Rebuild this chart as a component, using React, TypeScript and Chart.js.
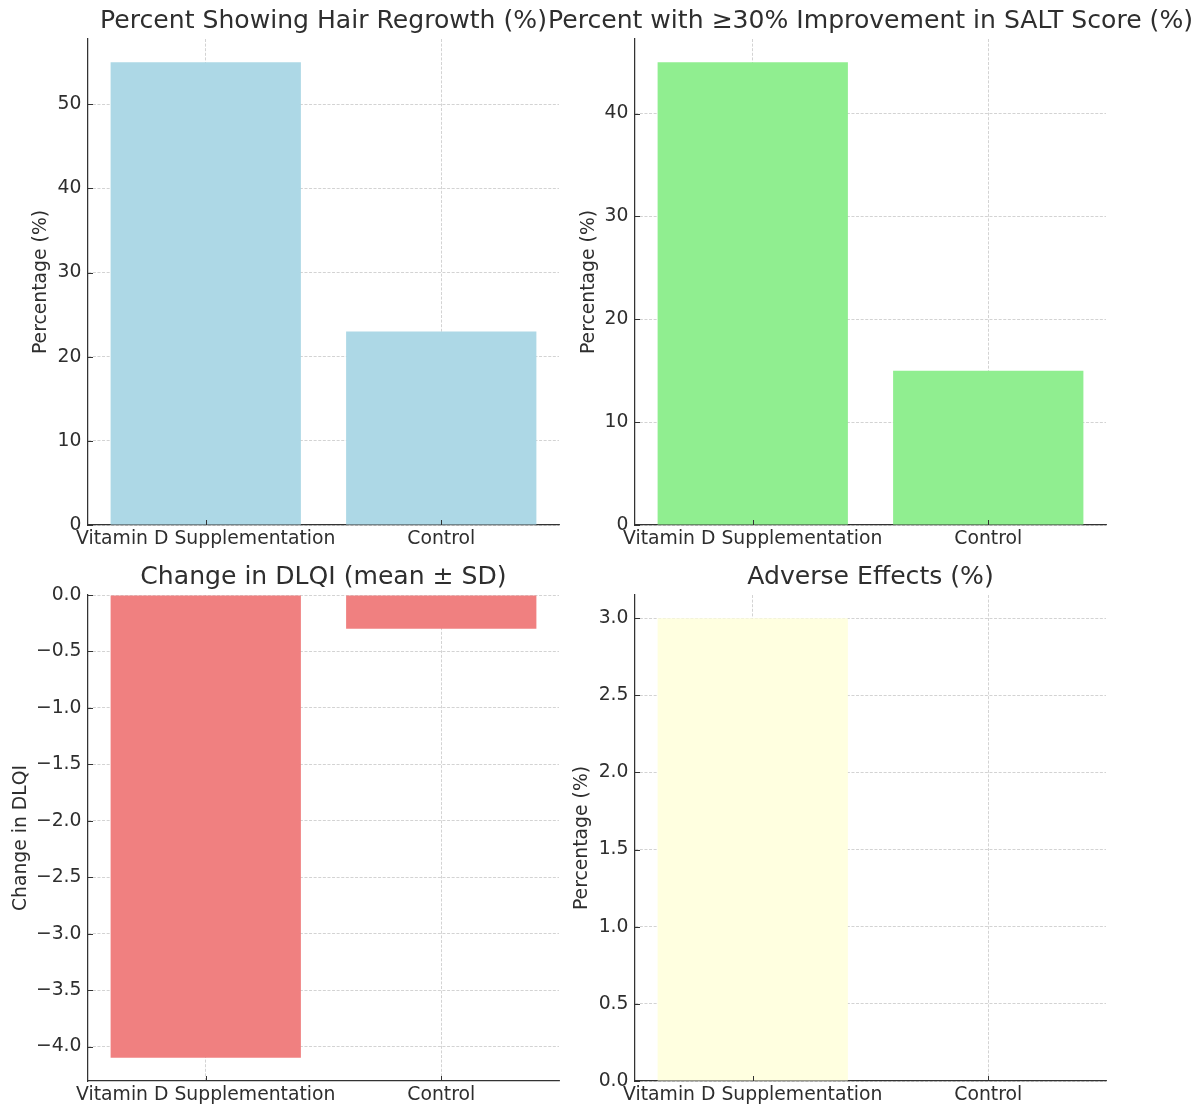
import React, { useEffect, useRef } from 'react';
import { Chart, registerables } from 'chart.js';

Chart.register(...registerables);

// ---- data ----
const categories = ['Vitamin D Supplementation', 'Control'];
const hairRegrowth = [55, 23];
const saltImprovement = [45, 15];
const dlqiChange = [-4.1, -0.3];
const adverseEffects = [3, 0];

const hairTicks = [0, 10, 20, 30, 40, 50];
const saltTicks = [0, 10, 20, 30, 40];
const dlqiTicks = [0, -0.5, -1, -1.5, -2, -2.5, -3, -3.5, -4];
const adverseTicks = [0, 0.5, 1, 1.5, 2, 2.5, 3];

// ---- style ----
const FONT = "'DejaVu Sans', sans-serif";
const TEXT = '#2e2e2e';
const AXIS = '#333333';
const GRID = 'rgba(176,176,176,0.7)';
const TICK_SIZE = 18.8;
const TITLE_SIZE = 25.1;
const CANVAS_H = 556;
const PLOT_W = 471;

type PanelCfg = {
  title: string;
  yLabel: string;
  values: number[];
  ticks: number[];
  decimals: number;
  color: string;
  left: number;
  top: number;
  yw: number;
  yTitleX: number;
};

const panels: PanelCfg[] = [
  {
    title: 'Percent Showing Hair Regrowth (%)',
    yLabel: 'Percentage (%)',
    values: hairRegrowth,
    ticks: hairTicks,
    decimals: 0,
    color: '#ADD8E6',
    left: 0,
    top: 0,
    yw: 88,
    yTitleX: 41.5,
  },
  {
    title: 'Percent with \u226530% Improvement in SALT Score (%)',
    yLabel: 'Percentage (%)',
    values: saltImprovement,
    ticks: saltTicks,
    decimals: 0,
    color: '#90EE90',
    left: 541,
    top: 0,
    yw: 94,
    yTitleX: 588.8,
  },
  {
    title: 'Change in DLQI (mean \u00b1 SD)',
    yLabel: 'Change in DLQI',
    values: dlqiChange,
    ticks: dlqiTicks,
    decimals: 1,
    color: '#F08080',
    left: 0,
    top: 556,
    yw: 88,
    yTitleX: 20.8,
  },
  {
    title: 'Adverse Effects (%)',
    yLabel: 'Percentage (%)',
    values: adverseEffects,
    ticks: adverseTicks,
    decimals: 1,
    color: '#FFFFE0',
    left: 541,
    top: 556,
    yw: 94,
    yTitleX: 582.2,
  },
];

function fmt(v: number, decimals: number): string {
  const s = Math.abs(v).toFixed(decimals);
  return v < 0 ? '\u2212' + s : s;
}

// small inward-pointing tick marks (matplotlib style), placed from the chart's own scales
const inwardTicks = {
  id: 'inwardTicks',
  afterDraw(chart: any) {
    const { ctx, chartArea } = chart;
    const xs = chart.scales.x;
    const ys = chart.scales.y;
    ctx.save();
    ctx.strokeStyle = AXIS;
    ctx.lineWidth = 1;
    ctx.beginPath();
    xs.ticks.forEach((_t: any, i: number) => {
      const px = Math.round(xs.getPixelForTick(i)) + 0.5;
      ctx.moveTo(px, chartArea.bottom);
      ctx.lineTo(px, chartArea.bottom - 5);
    });
    ys.ticks.forEach((_t: any, i: number) => {
      const py = Math.round(ys.getPixelForTick(i)) + 0.5;
      ctx.moveTo(chartArea.left, py);
      ctx.lineTo(chartArea.left + 5, py);
    });
    ctx.stroke();
    ctx.restore();
  },
};

function Panel({ cfg }: { cfg: PanelCfg }) {
  const ref = useRef<HTMLCanvasElement>(null);
  const W = cfg.yw * 2 + PLOT_W;

  useEffect(() => {
    if (!ref.current) return;
    const dataMax = Math.max(0, ...cfg.values);
    const dataMin = Math.min(0, ...cfg.values);
    const yMax = dataMax * 1.05;
    const yMin = dataMin * 1.05;
    const labelLH = TICK_SIZE * 1.2;

    const chart = new Chart(ref.current, {
      type: 'bar',
      data: {
        labels: categories,
        datasets: [
          {
            data: cfg.values,
            backgroundColor: cfg.color,
            borderWidth: 0,
            barPercentage: 0.808,
            categoryPercentage: 1,
            yAxisID: 'y',
          },
        ],
      },
      options: {
        responsive: false,
        animation: false,
        devicePixelRatio: 1,
        layout: { padding: 0 },
        plugins: {
          legend: { display: false },
          tooltip: { enabled: false },
          title: {
            display: true,
            text: cfg.title,
            color: TEXT,
            font: { family: FONT, size: TITLE_SIZE, weight: 'normal', lineHeight: 1.2 },
            padding: { top: 6.5, bottom: 39 - 6.5 - TITLE_SIZE * 1.2 },
          },
        },
        scales: {
          x: {
            type: 'category',
            offset: true,
            z: 1,
            grid: {
              offset: false,
              color: GRID,
              lineWidth: 0.8,
              drawTicks: false,
            },
            border: { display: true, color: AXIS, width: 1.25, dash: [3, 1.6] },
            ticks: {
              color: TEXT,
              font: { family: FONT, size: TICK_SIZE },
              padding: 3,
              maxRotation: 0,
              autoSkip: false,
            },
            afterFit: (s: any) => {
              s.height = 31;
            },
          },
          y: {
            type: 'linear',
            position: 'left',
            min: yMin,
            max: yMax,
            z: 1,
            afterBuildTicks: (s: any) => {
              s.ticks = cfg.ticks.map((v) => ({ value: v }));
            },
            grid: {
              color: GRID,
              lineWidth: 0.8,
              drawTicks: false,
            },
            border: { display: true, color: AXIS, width: 1.25, dash: [3, 1.6] },
            ticks: {
              color: TEXT,
              font: { family: FONT, size: TICK_SIZE },
              padding: 6.5,
              callback: (v: any) => fmt(Number(v), cfg.decimals),
            },
            title: {
              display: true,
              text: cfg.yLabel,
              color: TEXT,
              font: { family: FONT, size: TICK_SIZE, lineHeight: 1.2 },
              padding: { top: cfg.yTitleX - cfg.left - labelLH / 2, bottom: 0 },
            },
            afterFit: (s: any) => {
              s.width = cfg.yw;
            },
          },
          yr: {
            type: 'linear',
            position: 'right',
            display: true,
            grid: { display: false, drawTicks: false },
            border: { display: false },
            ticks: { display: false },
            afterFit: (s: any) => {
              s.width = cfg.yw;
            },
          },
        },
      } as any,
      plugins: [inwardTicks],
    });
    return () => chart.destroy();
  }, [cfg]);

  return (
    <canvas
      ref={ref}
      width={W}
      height={CANVAS_H}
      style={{
        position: 'absolute',
        left: cfg.left,
        top: cfg.top,
        width: W,
        height: CANVAS_H,
        display: 'block',
      }}
    />
  );
}

export default function App() {
  return (
    <div
      style={{
        position: 'absolute',
        left: 0,
        top: 0,
        width: 1200,
        height: 1106,
        overflow: 'hidden',
        background: '#ffffff',
      }}
    >
      {panels.map((p, i) => (
        <Panel key={i} cfg={p} />
      ))}
    </div>
  );
}
